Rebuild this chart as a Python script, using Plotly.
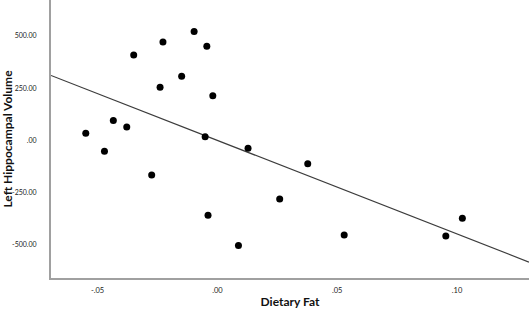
import plotly.graph_objects as go

# Scatter data (Dietary Fat vs Left Hippocampal Volume)
dietary_fat = [-0.0549, -0.0471, -0.0434, -0.0378, -0.0349, -0.0239, -0.0227,
               -0.0149, -0.0097, -0.0044, -0.0019, -0.0051, 0.0128, -0.0274,
               -0.0039, 0.0088, 0.0377, 0.0260, 0.0529, 0.0953, 0.1022]
left_hippo = [34, -52, 95, 65, 409, 255, 471,
              307, 521, 451, 214, 18, -37, -165,
              -358, -503, -111, -280, -452, -457, -372]

# Fit line endpoints
fit_x = [-0.0694, 0.130]
fit_y = [311, -582]

x_tickvals = [-0.05, 0.0, 0.05, 0.10]
x_ticktext = ["-.05", ".00", ".05", ".10"]
y_tickvals = [500, 250, 0, -250, -500]
y_ticktext = ["500.00", "250.00", ".00", "-250.00", "-500.00"]

fig = go.Figure()
fig.add_trace(go.Scatter(x=fit_x, y=fit_y, mode="lines",
                         line=dict(color="#3c3c3c", width=1.2),
                         showlegend=False, hoverinfo="skip"))
fig.add_trace(go.Scatter(x=dietary_fat, y=left_hippo, mode="markers",
                         marker=dict(color="black", size=7),
                         showlegend=False))

fig.update_layout(
    width=529, height=312,
    margin=dict(l=51, r=0, t=0, b=34),
    paper_bgcolor="white", plot_bgcolor="white",
    font=dict(family="Lato, 'Open Sans', sans-serif", color="#111"),
    xaxis=dict(
        range=[-0.0694, 0.130], automargin=False,
        tickvals=x_tickvals, ticktext=x_ticktext,
        tickfont=dict(size=7.5, color="#222"),
        showgrid=False, zeroline=False,
        showline=True, linecolor="#a0a0a0", linewidth=2,
        ticks="", ticklabelstandoff=4,
        title=dict(text="<b>Dietary Fat</b>", font=dict(size=12, color="#111"), standoff=4),
    ),
    yaxis=dict(
        range=[-658, 672], automargin=False,
        tickvals=y_tickvals, ticktext=y_ticktext,
        tickfont=dict(size=7, color="#222"),
        showgrid=False, zeroline=False,
        showline=True, linecolor="#a0a0a0", linewidth=2,
        ticks="", ticklabelstandoff=11,
        title=dict(text="<b>Left Hippocampal Volume</b>", font=dict(size=12, color="#111"), standoff=8),
    ),
)

fig.write_html("out.html", config={"displayModeBar": False},
               post_script="document.body.style.margin='0px';")
